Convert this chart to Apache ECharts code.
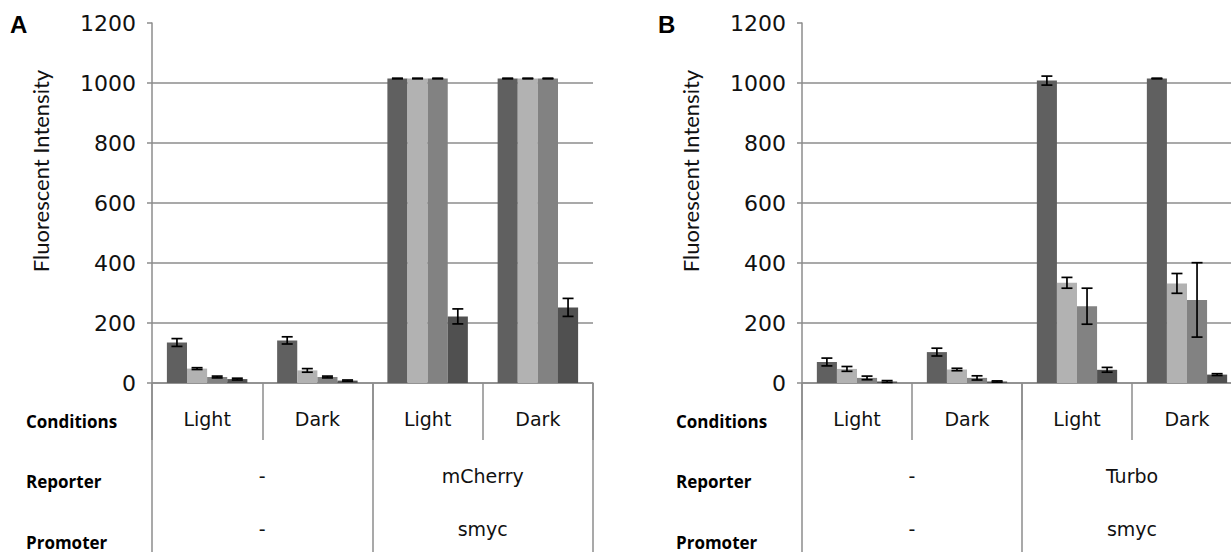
<!DOCTYPE html>
<html>
<head>
<meta charset="utf-8">
<script src="https://cdn.jsdelivr.net/npm/echarts/dist/echarts.min.js"></script>
<style>html,body{margin:0;padding:0;background:#fff}#c{width:1231px;height:552px}</style>
</head>
<body>
<div id="c"></div>
<script>
// ---------- data ----------
const categories = ['Light', 'Dark', 'Light', 'Dark'];
const reporterA = ['-', 'mCherry'];
const promoterA = ['-', 'smyc'];
const reporterB = ['-', 'Turbo'];
const promoterB = ['-', 'smyc'];
const rowLabels = ['Conditions', 'Reporter', 'Promoter'];
const panelLetters = ['A', 'B'];
const yName = 'Fluorescent Intensity';

// Panel A values (4 series) and error half-widths
const aS1 = [135, 142, 1015, 1015];  const aS1Err = [13, 12, 1, 1];
const aS2 = [48, 42, 1015, 1015];    const aS2Err = [3, 6, 1, 1];
const aS3 = [20, 20, 1015, 1015];    const aS3Err = [3, 3, 1, 1];
const aS4 = [13, 8, 222, 252];       const aS4Err = [3, 2, 25, 30];

// Panel B values
const bS1 = [70, 103, 1008, 1015];   const bS1Err = [13, 13, 15, 1];
const bS2 = [47, 45, 334, 332];      const bS2Err = [8, 4, 18, 33];
const bS3 = [17, 17, 256, 277];      const bS3Err = [6, 7, 60, 124];
const bS4 = [5, 5, 44, 28];          const bS4Err = [3, 2, 8, 3];

// ---------- style ----------
const colors = ['#606060', '#b2b2b2', '#828282', '#505050'];
const lineGrey = '#8c8c8c';
const numFont = 'DejaVu Sans';
const CAT_GAP = 0.27;

const chart = echarts.init(document.getElementById('c'), null, {renderer: 'svg'});

const grids = [
  {left: 152, top: 23, width: 441, height: 360, containLabel: false, outerBoundsMode: 'none'},
  {left: 802, top: 23, width: 440, height: 360, containLabel: false, outerBoundsMode: 'none'}
];

const xAxes = [];
const yAxes = [];
const series = [];

function addPanel(gi, vals, errs, reporter, promoter) {
  xAxes.push({
    gridIndex: gi, type: 'category', data: categories, position: 'bottom',
    axisLine: {show: true, lineStyle: {color: lineGrey, width: 1.5}},
    axisTick: {show: true, interval: 0, length: 57, lineStyle: {color: lineGrey, width: 1.5}},
    axisLabel: {interval: 0, margin: 26, fontSize: 19, fontFamily: numFont, color: '#111'}
  });
  xAxes.push({
    gridIndex: gi, type: 'category', data: reporter, position: 'bottom',
    axisLine: {show: false},
    axisTick: {show: true, interval: 0, length: 169, lineStyle: {color: lineGrey, width: 1.5}},
    axisLabel: {interval: 0, margin: 83, fontSize: 19, fontFamily: numFont, color: '#111'}
  });
  xAxes.push({
    gridIndex: gi, type: 'category', data: promoter, position: 'bottom',
    axisLine: {show: false}, axisTick: {show: false},
    axisLabel: {interval: 0, margin: 136, fontSize: 19, fontFamily: numFont, color: '#111'}
  });
  yAxes.push({
    gridIndex: gi, type: 'value', min: 0, max: 1200, interval: 200,
    axisLine: {show: true, lineStyle: {color: lineGrey, width: 1.5}},
    axisTick: {show: true, length: 5, lineStyle: {color: lineGrey, width: 1.5}},
    axisLabel: {fontSize: 22, fontFamily: numFont, color: '#111', margin: 16,
      formatter: function (v) { return String(v); }},
    splitLine: {show: true, lineStyle: {color: [lineGrey, lineGrey, lineGrey, lineGrey, lineGrey, lineGrey, 'rgba(0,0,0,0)'], width: 1.5}}
  });
  const xi = gi * 3;
  vals.forEach((v, si) => {
    series.push({
      type: 'bar', xAxisIndex: xi, yAxisIndex: gi, data: v,
      barGap: '0%', barCategoryGap: (CAT_GAP * 100) + '%',
      itemStyle: {color: colors[si]}, z: 2, silent: true
    });
  });
  const items = [];
  vals.forEach((v, si) => v.forEach((val, ci) => items.push([ci, val, errs[si][ci], si])));
  series.push({
    type: 'custom', xAxisIndex: xi, yAxisIndex: gi, z: 5, silent: true,
    encode: {x: 0, y: 1},
    data: items,
    renderItem: function (params, api) {
      const ci = api.value(0), val = api.value(1), e = api.value(2), si = api.value(3);
      const band = api.size([1, 0])[0];
      const bw = band * (1 - CAT_GAP) / 4;
      const x = api.coord([ci, 0])[0] + (si - 1.5) * bw;
      const yHi = api.coord([ci, val + e])[1];
      const yLo = api.coord([ci, val - e])[1];
      const cap = 5.5;
      const st = {stroke: '#000', lineWidth: 1.7};
      return {type: 'group', children: [
        {type: 'line', shape: {x1: x, y1: yHi, x2: x, y2: yLo}, style: st},
        {type: 'line', shape: {x1: x - cap, y1: yHi, x2: x + cap, y2: yHi}, style: st},
        {type: 'line', shape: {x1: x - cap, y1: yLo, x2: x + cap, y2: yLo}, style: st}
      ]};
    }
  });
}

addPanel(0, [aS1, aS2, aS3, aS4], [aS1Err, aS2Err, aS3Err, aS4Err], reporterA, promoterA);
addPanel(1, [bS1, bS2, bS3, bS4], [bS1Err, bS2Err, bS3Err, bS4Err], reporterB, promoterB);

const graphics = [];
const panelX = [0, 650];
const rowY = [421, 481, 542];
panelX.forEach((px, pi) => {
  graphics.push({type: 'text', x: px + (pi ? 8 : 10), y: 24,
    style: {text: panelLetters[pi], font: 'bold 24px "Liberation Sans"', fill: '#000', align: 'left', verticalAlign: 'middle'}});
  graphics.push({type: 'text', x: px + 40, y: 171, rotation: Math.PI / 2,
    style: {text: yName, font: '22px Lato', fill: '#111', align: 'center', verticalAlign: 'middle'}});
  rowLabels.forEach((t, ri) => {
    graphics.push({type: 'text', x: px + 26, y: rowY[ri],
      style: {text: t, font: 'bold 17px "Open Sans"', fill: '#000', align: 'left', verticalAlign: 'middle'}});
  });
});

chart.setOption({
  animation: false,
  grid: grids,
  xAxis: xAxes,
  yAxis: yAxes,
  series: series,
  graphic: graphics
});
</script>
</body>
</html>
